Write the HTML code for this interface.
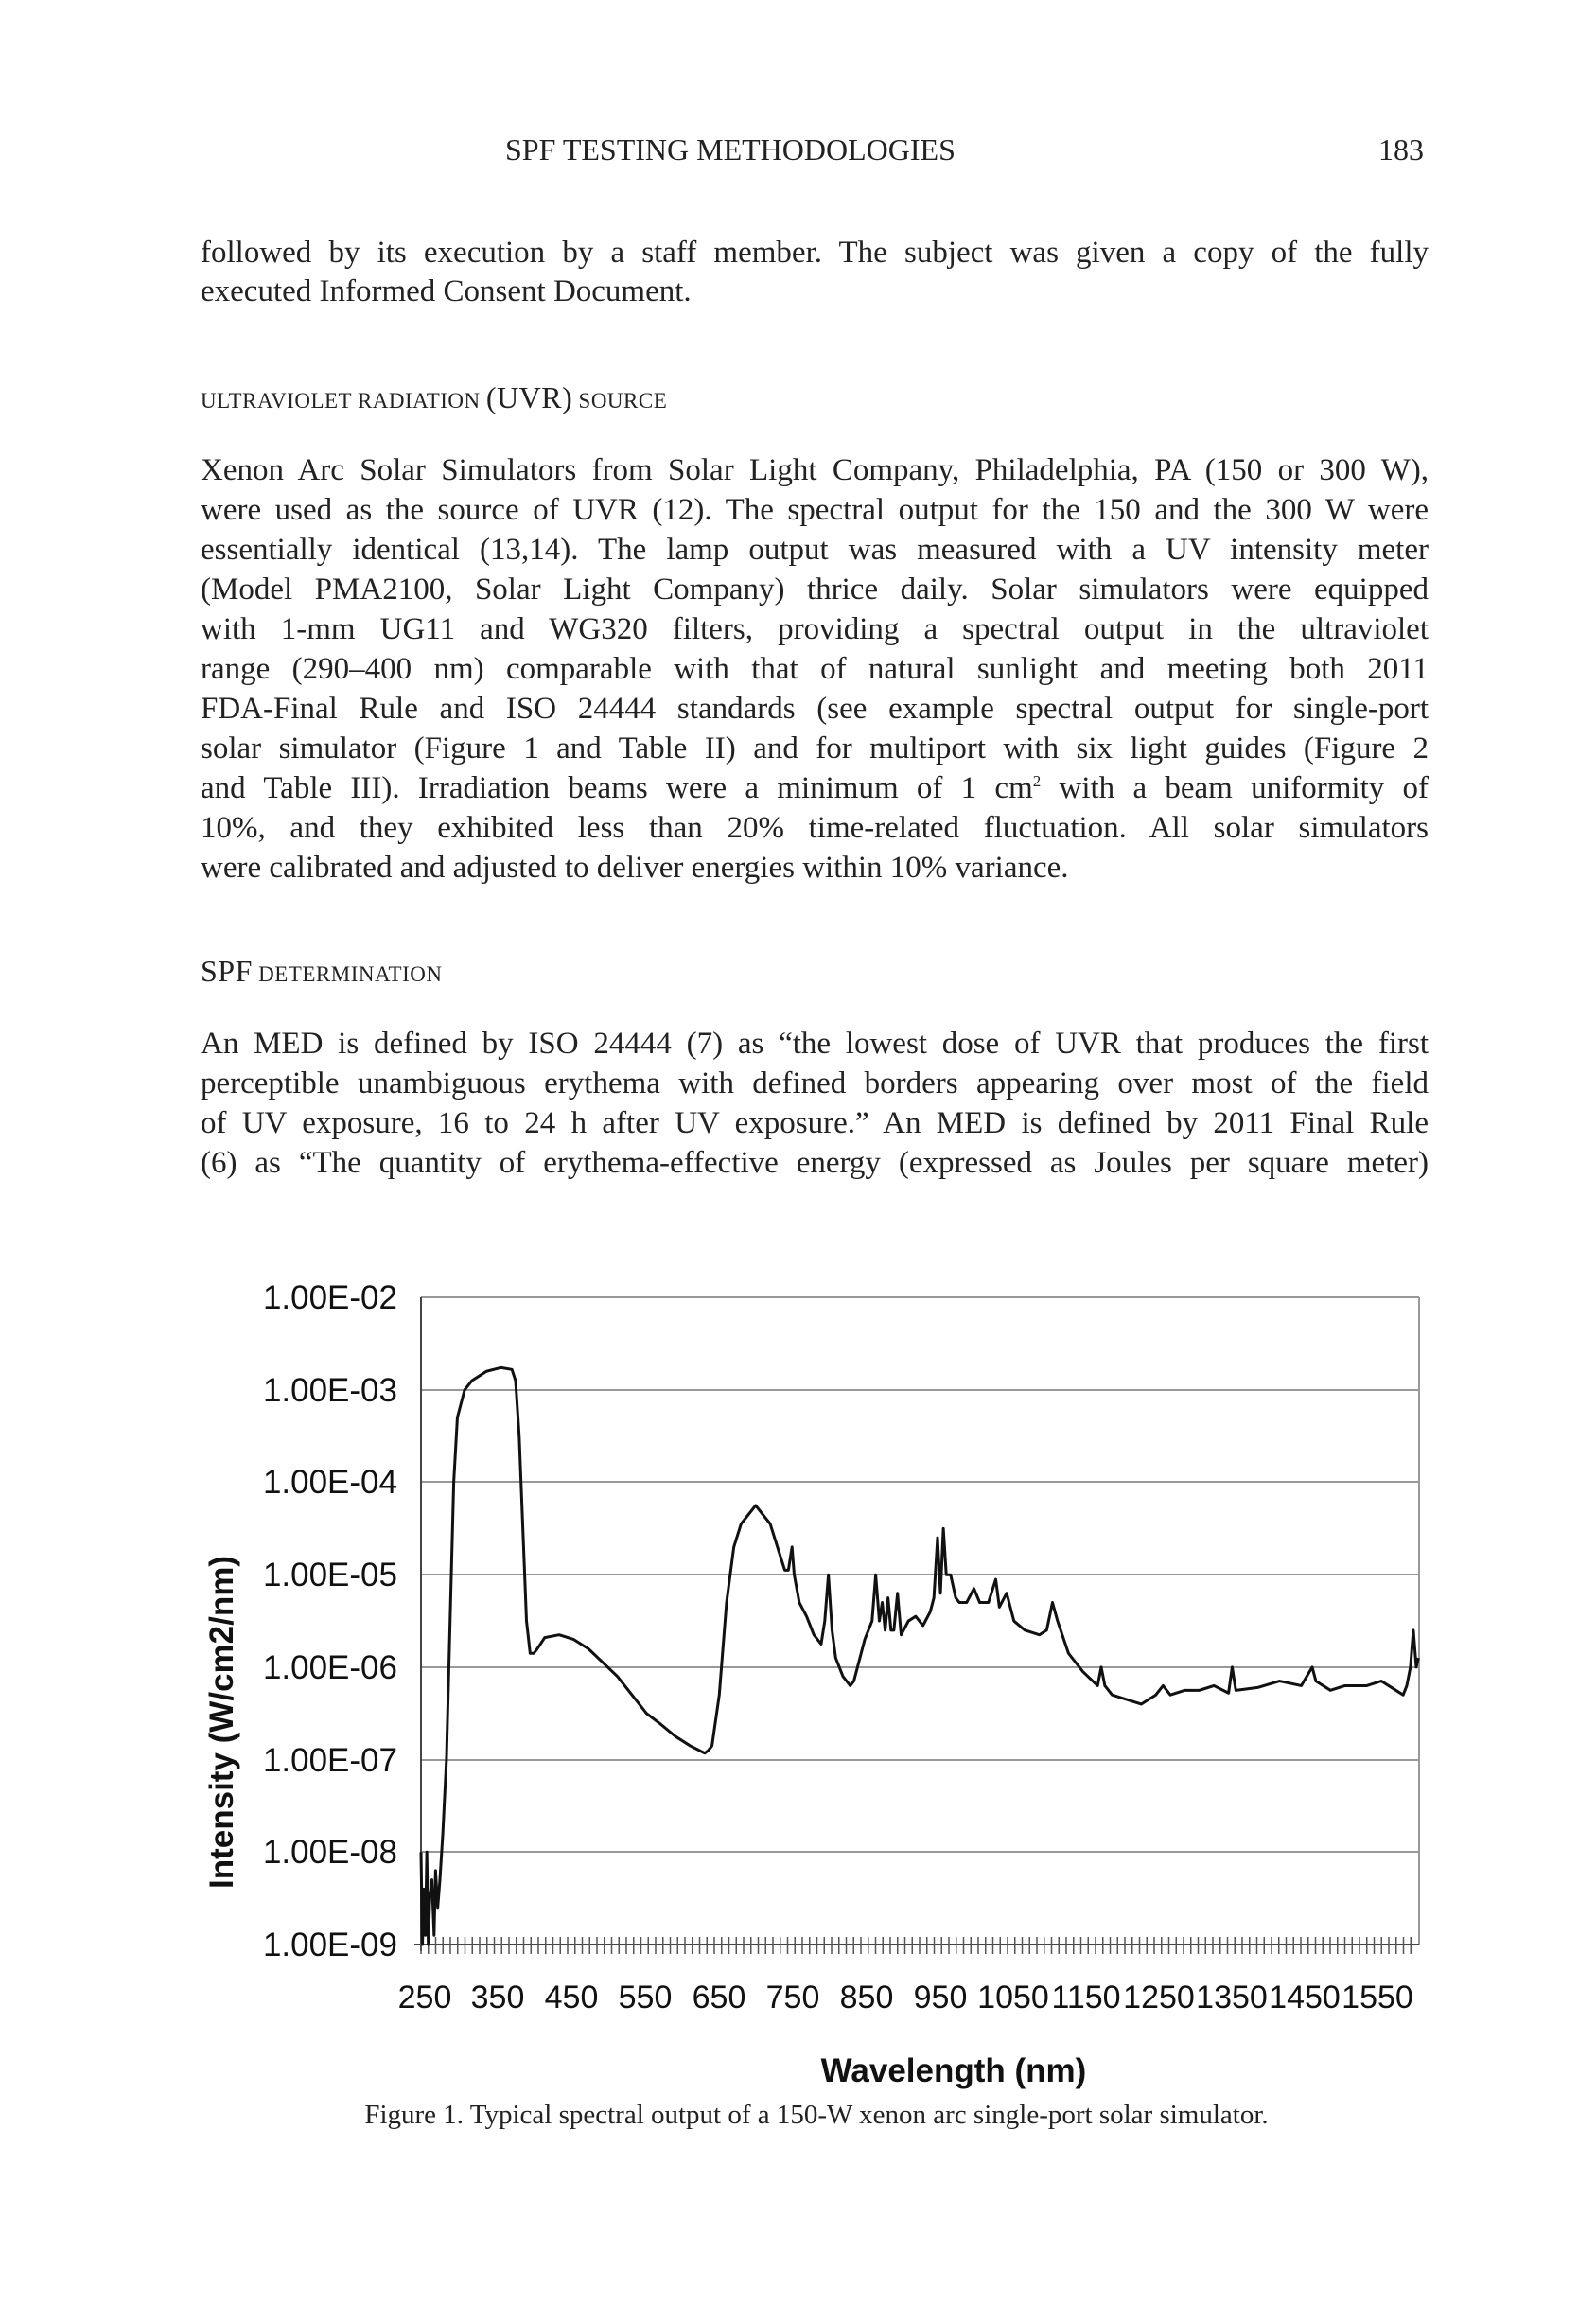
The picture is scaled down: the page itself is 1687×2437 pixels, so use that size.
<!DOCTYPE html>
<html><head><meta charset="utf-8"><style>
body{margin:0;background:#fff;}
#p{position:relative;width:1687px;height:2437px;overflow:hidden;background:#fff;font-family:"Liberation Serif",serif;color:#222;}
.l{position:absolute;left:212px;width:1298px;font-size:33px;line-height:40px;white-space:nowrap;text-align:justify;text-align-last:justify;}
.h{position:absolute;font-size:32px;line-height:40px;white-space:nowrap;}
.sc{position:absolute;left:212px;font-size:23px;line-height:40px;white-space:nowrap;letter-spacing:0.5px;}
.sc b{font-weight:normal;font-size:32px;}
</style></head><body><div id="p">
<div class="h" style="left:534px;top:138px;">SPF TESTING METHODOLOGIES</div>
<div class="h" style="left:1457px;top:138px;">183</div>
<div class="l" style="top:247px;">followed by its execution by a staff member. The subject was given a copy of the fully</div>
<div class="l" style="top:288px;text-align-last:left;">executed Informed Consent Document.</div>
<div class="sc" style="top:400px;">ULTRAVIOLET RADIATION <b>(UVR)</b> SOURCE</div>
<div class="l" style="top:477px;">Xenon Arc Solar Simulators from Solar Light Company, Philadelphia, PA (150 or 300 W),</div>
<div class="l" style="top:519px;">were used as the source of UVR (12). The spectral output for the 150 and the 300 W were</div>
<div class="l" style="top:561px;">essentially identical (13,14). The lamp output was measured with a UV intensity meter</div>
<div class="l" style="top:603px;">(Model PMA2100, Solar Light Company) thrice daily. Solar simulators were equipped</div>
<div class="l" style="top:645px;">with 1-mm UG11 and WG320 filters, providing a spectral output in the ultraviolet</div>
<div class="l" style="top:687px;">range (290–400 nm) comparable with that of natural sunlight and meeting both 2011</div>
<div class="l" style="top:729px;">FDA-Final Rule and ISO 24444 standards (see example spectral output for single-port</div>
<div class="l" style="top:771px;">solar simulator (Figure 1 and Table II) and for multiport with six light guides (Figure 2</div>
<div class="l" style="top:813px;">and Table III). Irradiation beams were a minimum of 1 cm<sup style="font-size:17px;line-height:0">2</sup> with a beam uniformity of</div>
<div class="l" style="top:855px;">10%, and they exhibited less than 20% time-related fluctuation. All solar simulators</div>
<div class="l" style="top:897px;text-align-last:left;">were calibrated and adjusted to deliver energies within 10% variance.</div>
<div class="sc" style="top:1006px;"><b>SPF</b> DETERMINATION</div>
<div class="l" style="top:1083px;">An MED is defined by ISO 24444 (7) as “the lowest dose of UVR that produces the first</div>
<div class="l" style="top:1125px;">perceptible unambiguous erythema with defined borders appearing over most of the field</div>
<div class="l" style="top:1167px;">of UV exposure, 16 to 24 h after UV exposure.” An MED is defined by 2011 Final Rule</div>
<div class="l" style="top:1209px;">(6) as “The quantity of erythema-effective energy (expressed as Joules per square meter)</div>

<svg style="position:absolute;left:0;top:0" width="1687" height="2437">
<g stroke="#999" stroke-width="2">
<line x1="445" y1="1371" x2="1500" y2="1371"/>
<line x1="445" y1="1469" x2="1500" y2="1469"/>
<line x1="445" y1="1566" x2="1500" y2="1566"/>
<line x1="445" y1="1664" x2="1500" y2="1664"/>
<line x1="445" y1="1762" x2="1500" y2="1762"/>
<line x1="445" y1="1860" x2="1500" y2="1860"/>
<line x1="445" y1="1957" x2="1500" y2="1957"/>
<line x1="1500" y1="1371" x2="1500" y2="2055"/>
</g>
<g stroke="#444" stroke-width="2">
<line x1="445" y1="1371" x2="445" y2="2062"/>
<line x1="438" y1="2055" x2="1500" y2="2055"/>
</g>
<path stroke="#555" stroke-width="1.5" d="M445 2047V2065M452.75 2047V2065M460.5 2047V2065M468.25 2047V2065M476 2047V2065M483.75 2047V2065M491.5 2047V2065M499.25 2047V2065M507 2047V2065M514.75 2047V2065M522.5 2047V2065M530.25 2047V2065M538 2047V2065M545.75 2047V2065M553.5 2047V2065M561.25 2047V2065M569 2047V2065M576.75 2047V2065M584.5 2047V2065M592.25 2047V2065M600 2047V2065M607.75 2047V2065M615.5 2047V2065M623.25 2047V2065M631 2047V2065M638.75 2047V2065M646.5 2047V2065M654.25 2047V2065M662 2047V2065M669.75 2047V2065M677.5 2047V2065M685.25 2047V2065M693 2047V2065M700.75 2047V2065M708.5 2047V2065M716.25 2047V2065M724 2047V2065M731.75 2047V2065M739.5 2047V2065M747.25 2047V2065M755 2047V2065M762.75 2047V2065M770.5 2047V2065M778.25 2047V2065M786 2047V2065M793.75 2047V2065M801.5 2047V2065M809.25 2047V2065M817 2047V2065M824.75 2047V2065M832.5 2047V2065M840.25 2047V2065M848 2047V2065M855.75 2047V2065M863.5 2047V2065M871.25 2047V2065M879 2047V2065M886.75 2047V2065M894.5 2047V2065M902.25 2047V2065M910 2047V2065M917.75 2047V2065M925.5 2047V2065M933.25 2047V2065M941 2047V2065M948.75 2047V2065M956.5 2047V2065M964.25 2047V2065M972 2047V2065M979.75 2047V2065M987.5 2047V2065M995.25 2047V2065M1003 2047V2065M1010.75 2047V2065M1018.5 2047V2065M1026.25 2047V2065M1034 2047V2065M1041.75 2047V2065M1049.5 2047V2065M1057.25 2047V2065M1065 2047V2065M1072.75 2047V2065M1080.5 2047V2065M1088.25 2047V2065M1096 2047V2065M1103.75 2047V2065M1111.5 2047V2065M1119.25 2047V2065M1127 2047V2065M1134.75 2047V2065M1142.5 2047V2065M1150.25 2047V2065M1158 2047V2065M1165.75 2047V2065M1173.5 2047V2065M1181.25 2047V2065M1189 2047V2065M1196.75 2047V2065M1204.5 2047V2065M1212.25 2047V2065M1220 2047V2065M1227.75 2047V2065M1235.5 2047V2065M1243.25 2047V2065M1251 2047V2065M1258.75 2047V2065M1266.5 2047V2065M1274.25 2047V2065M1282 2047V2065M1289.75 2047V2065M1297.5 2047V2065M1305.25 2047V2065M1313 2047V2065M1320.75 2047V2065M1328.5 2047V2065M1336.25 2047V2065M1344 2047V2065M1351.75 2047V2065M1359.5 2047V2065M1367.25 2047V2065M1375 2047V2065M1382.75 2047V2065M1390.5 2047V2065M1398.25 2047V2065M1406 2047V2065M1413.75 2047V2065M1421.5 2047V2065M1429.25 2047V2065M1437 2047V2065M1444.75 2047V2065M1452.5 2047V2065M1460.25 2047V2065M1468 2047V2065M1475.75 2047V2065M1483.5 2047V2065M1491.25 2047V2065"/>
<g transform="translate(445,2055) scale(0.769,-97.7)">
<polyline fill="none" stroke="#111" stroke-width="3" vector-effect="non-scaling-stroke" stroke-linejoin="round" points="
0,1 2,0 4,0.6 6,0.1 8,1 10,0 12,0.5 15,0.7 18,0.1 20,0.8 23,0.4 26,0.7 30,1.2 35,2 40,3.5 45,5 50,5.7 60,6 70,6.1 90,6.2 110,6.24 125,6.22 130,6.1 135,5.5 140,4.5 145,3.5 150,3.15 155,3.15 160,3.2 170,3.32 190,3.35 210,3.3 230,3.2 250,3.05 270,2.9 290,2.7 310,2.5 330,2.38 350,2.25 370,2.15 390,2.07 395,2.1 400,2.15 410,2.7 420,3.7 430,4.3 440,4.55 450,4.65 460,4.75 465,4.7 470,4.65 480,4.55 490,4.3 500,4.05 505,4.05 510,4.3 513,4.0 520,3.7 530,3.55 540,3.35 550,3.25 555,3.5 560,4.0 565,3.4 570,3.1 580,2.9 590,2.8 595,2.85 600,3.0 610,3.3 620,3.5 625,4.0 630,3.5 634,3.7 638,3.4 642,3.75 646,3.4 650,3.4 655,3.8 660,3.35 670,3.5 680,3.55 690,3.45 700,3.6 705,3.75 710,4.4 714,3.8 718,4.5 722,4.0 728,4.0 735,3.75 740,3.7 750,3.7 760,3.85 768,3.7 780,3.7 790,3.95 795,3.65 805,3.8 815,3.5 830,3.4 850,3.35 860,3.4 868,3.7 875,3.5 890,3.15 910,2.95 930,2.8 935,3.0 940,2.8 950,2.7 970,2.65 990,2.6 1010,2.7 1020,2.8 1030,2.7 1050,2.75 1070,2.75 1090,2.8 1110,2.72 1115,3.0 1120,2.75 1150,2.78 1180,2.85 1210,2.8 1225,3.0 1230,2.85 1250,2.75 1270,2.8 1300,2.8 1320,2.85 1330,2.8 1340,2.75 1350,2.7 1355,2.8 1360,3.0 1364,3.4 1368,3.0 1371,3.1"/>
</g>
<g font-family="Liberation Sans, sans-serif" font-size="35" fill="#111" text-anchor="end">
<text x="420" y="1383">1.00E-02</text>
<text x="420" y="1481">1.00E-03</text>
<text x="420" y="1578">1.00E-04</text>
<text x="420" y="1676">1.00E-05</text>
<text x="420" y="1774">1.00E-06</text>
<text x="420" y="1872">1.00E-07</text>
<text x="420" y="1969">1.00E-08</text>
<text x="420" y="2067">1.00E-09</text>
</g>
<g font-family="Liberation Sans, sans-serif" font-size="34" fill="#111" text-anchor="middle">
<text x="449" y="2122">250</text><text x="526" y="2122">350</text><text x="604" y="2122">450</text><text x="682" y="2122">550</text><text x="760" y="2122">650</text><text x="838" y="2122">750</text><text x="916" y="2122">850</text><text x="994" y="2122">950</text><text x="1071" y="2122">1050</text><text x="1148" y="2122">1150</text><text x="1225" y="2122">1250</text><text x="1302" y="2122">1350</text><text x="1379" y="2122">1450</text><text x="1456" y="2122">1550</text>
</g>
<text x="1008" y="2200" font-family="Liberation Sans, sans-serif" font-size="35" font-weight="bold" text-anchor="middle" fill="#111">Wavelength (nm)</text>
<text transform="translate(246,1820) rotate(-90)" font-family="Liberation Sans, sans-serif" font-size="35" font-weight="bold" text-anchor="middle" fill="#111">Intensity (W/cm2/nm)</text>
<text x="863" y="2244" font-family="Liberation Serif, serif" font-size="29" text-anchor="middle" fill="#222">Figure 1.  Typical spectral output of a 150-W xenon arc single-port solar simulator.</text>
</svg>
</div></body></html>
